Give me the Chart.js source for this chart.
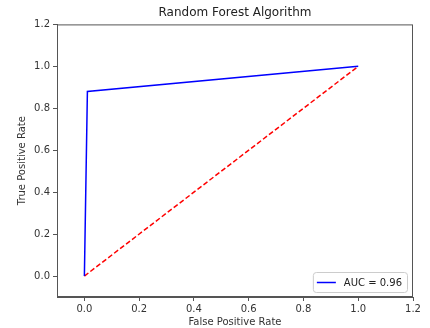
<!DOCTYPE html>
<html>
<head>
<meta charset="utf-8">
<script src="https://cdn.jsdelivr.net/npm/chart.js@4"></script>
<style>
  html, body { margin: 0; padding: 0; background: #fff; }
  #wrap { width: 430px; height: 328px; }
</style>
</head>
<body>
<div id="wrap"><canvas id="roc" width="430" height="328"></canvas></div>
<script>
// values
const fpr = [0, 0.011, 1];
const tpr = [0, 0.88, 1];
const chanceX = [0, 1];
const chanceY = [0, 1];
const aucLabel = 'AUC = 0.96';
const xTicks = [0, 0.2, 0.4, 0.6, 0.8, 1.0, 1.2];
const yTicks = [0, 0.2, 0.4, 0.6, 0.8, 1.0, 1.2];

Chart.defaults.font.family = 'DejaVu Sans';
Chart.defaults.color = '#333';

const frameColor = '#555';

// center the title over the plot area, not the whole canvas
const titleOverPlot = {
  id: 'titleOverPlot',
  afterLayout(chart) {
    if (chart.titleBlock) {
      chart.titleBlock.left = chart.chartArea.left;
      chart.titleBlock.right = chart.chartArea.right;
    }
  }
};

// box around the plot, like matplotlib's spines
const frame = {
  id: 'frame',
  afterDraw(chart) {
    const a = chart.chartArea, c = chart.ctx;
    c.save();
    c.strokeStyle = frameColor;
    c.lineWidth = 1;
    c.strokeRect(a.left + 0.5, a.top + 0.5, a.right - a.left - 1, a.bottom - a.top - 1);
    c.restore();
  }
};

// legend in the lower right corner
const cornerLegend = {
  id: 'cornerLegend',
  afterDraw(chart) {
    const ds = chart.data.datasets.filter(d => d.label);
    if (!ds.length) return;
    const c = chart.ctx, a = chart.chartArea;
    c.save();
    c.font = '10px DejaVu Sans';
    const tw = c.measureText(ds[0].label).width;
    const w = tw + 36, h = 20;
    const x = a.right - 6 - w, y = a.bottom - 5 - h;
    c.fillStyle = 'rgba(255,255,255,0.85)';
    c.strokeStyle = '#ccc';
    c.lineWidth = 1;
    c.beginPath();
    c.roundRect(x + 0.5, y + 0.5, w, h, 3);
    c.fill();
    c.stroke();
    c.strokeStyle = ds[0].borderColor;
    c.lineWidth = 1.5;
    c.beginPath();
    c.moveTo(x + 4, y + h / 2 + 0.5);
    c.lineTo(x + 23, y + h / 2 + 0.5);
    c.stroke();
    c.fillStyle = '#222';
    c.textBaseline = 'middle';
    c.fillText(ds[0].label, x + 31, y + h / 2 + 1);
    c.restore();
  }
};

new Chart(document.getElementById('roc'), {
  type: 'line',
  data: {
    datasets: [{
      label: aucLabel,
      data: fpr.map((v, i) => ({x: v, y: tpr[i]})),
      borderColor: '#0000ff',
      borderWidth: 1.5,
      pointRadius: 0,
      tension: 0
    }, {
      data: chanceX.map((v, i) => ({x: v, y: chanceY[i]})),
      borderColor: '#ff0000',
      borderWidth: 1.5,
      borderDash: [5, 2.5],
      pointRadius: 0,
      tension: 0
    }]
  },
  options: {
    responsive: false,
    animation: false,
    layout: { padding: { left: 0, right: 17, top: 0, bottom: 0 } },
    plugins: {
      legend: { display: false },
      tooltip: { enabled: false },
      title: {
        display: true,
        text: 'Random Forest Algorithm',
        color: '#222',
        font: { size: 12, weight: 'normal' },
        padding: { top: 6, bottom: 4 }
      }
    },
    scales: {
      x: {
        type: 'linear',
        min: -0.1, max: 1.2,
        afterBuildTicks: s => { s.ticks = xTicks.map(v => ({value: v})); },
        afterFit: s => { s.height = 31; },
        ticks: { font: { size: 10 }, color: '#333', padding: 2,
                 callback: v => v.toFixed(1), maxRotation: 0 },
        grid: { drawOnChartArea: false, drawTicks: true, tickLength: 4, color: frameColor },
        border: { display: true, color: frameColor },
        title: { display: true, text: 'False Positive Rate', color: '#333',
                 font: { size: 10 }, padding: { top: 0, bottom: 0 } }
      },
      y: {
        type: 'linear',
        min: -0.1, max: 1.2,
        afterBuildTicks: s => { s.ticks = yTicks.map(v => ({value: v})); },
        afterFit: s => { s.width = 57; },
        ticks: { font: { size: 10 }, color: '#333', padding: 3,
                 callback: v => v.toFixed(1) },
        grid: { drawOnChartArea: false, drawTicks: true, tickLength: 4, color: frameColor },
        border: { display: true, color: frameColor },
        title: { display: true, text: 'True Positive Rate', color: '#333',
                 font: { size: 10 }, padding: { top: 16, bottom: 0 } }
      }
    }
  },
  plugins: [titleOverPlot, frame, cornerLegend]
});
</script>
</body>
</html>
